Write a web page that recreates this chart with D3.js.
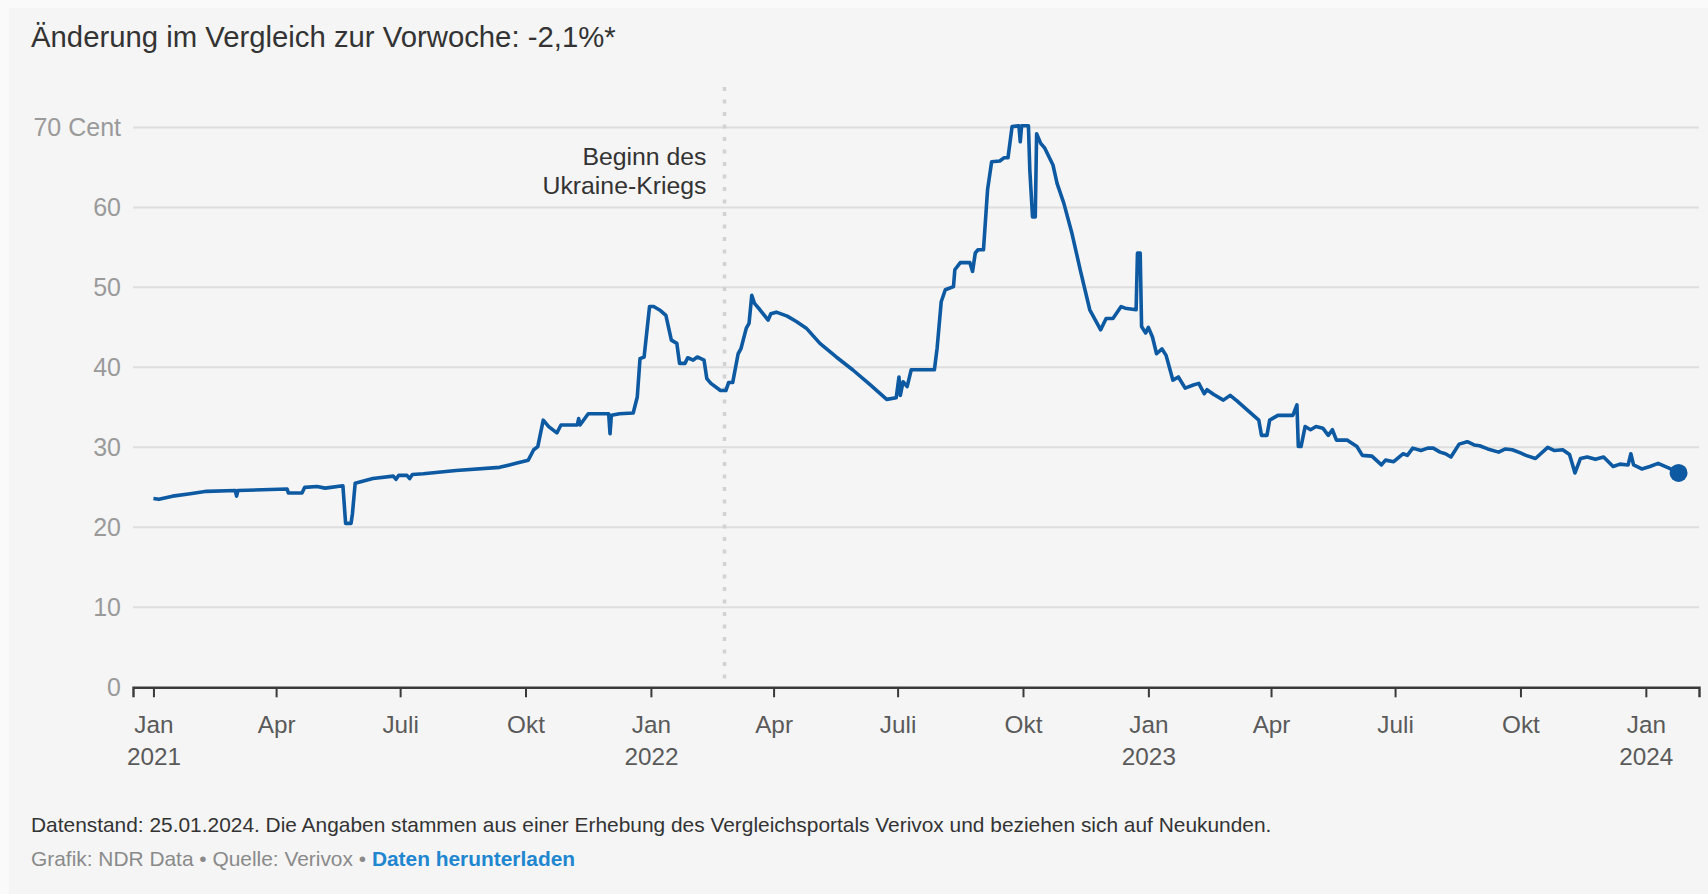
<!DOCTYPE html>
<html>
<head>
<meta charset="utf-8">
<script src="https://cdn.jsdelivr.net/npm/d3@7"></script>
<style>
  body { margin: 0; background: #f5f5f5; }
  svg text { font-family: "Liberation Sans", Arial, sans-serif; }
</style>
</head>
<body>
<svg width="1708" height="894"></svg>
<script>
// Strompreis Neukunden (Cent/kWh)
var dates = [
  "2021-01-01","2021-01-05","2021-01-15","2021-01-28","2021-02-09","2021-03-02","2021-03-03","2021-03-04",
  "2021-04-09","2021-04-10","2021-04-20","2021-04-22","2021-05-01","2021-05-07","2021-05-20","2021-05-22",
  "2021-05-26","2021-05-27","2021-05-29","2021-06-11","2021-06-26","2021-06-28","2021-06-30","2021-07-06",
  "2021-07-08","2021-07-10","2021-07-18","2021-08-11","2021-09-12","2021-09-24","2021-10-03","2021-10-07",
  "2021-10-10","2021-10-14","2021-10-18","2021-10-24","2021-10-27","2021-11-08","2021-11-09","2021-11-10",
  "2021-11-16","2021-12-01","2021-12-02","2021-12-03","2021-12-09","2021-12-19","2021-12-22","2021-12-24",
  "2021-12-27","2021-12-31",
  "2022-01-03","2022-01-08","2022-01-12","2022-01-16","2022-01-20","2022-01-22","2022-01-26","2022-01-28",
  "2022-02-01","2022-02-04","2022-02-09","2022-02-11","2022-02-14","2022-02-21","2022-02-25","2022-02-27",
  "2022-03-02","2022-03-06","2022-03-08","2022-03-12","2022-03-14","2022-03-16","2022-03-18","2022-03-22",
  "2022-03-28","2022-03-30","2022-04-03","2022-04-11","2022-04-18","2022-04-25","2022-05-05","2022-05-17",
  "2022-05-29","2022-06-11","2022-06-23","2022-06-30","2022-07-02","2022-07-03","2022-07-05","2022-07-08",
  "2022-07-11","2022-07-28","2022-07-30","2022-08-02","2022-08-05","2022-08-11","2022-08-12","2022-08-16",
  "2022-08-23","2022-08-25","2022-08-27","2022-08-29","2022-09-02","2022-09-05","2022-09-08","2022-09-14",
  "2022-09-17","2022-09-20","2022-09-23","2022-09-28","2022-09-29","2022-09-30","2022-10-05","2022-10-06",
  "2022-10-08","2022-10-10","2022-10-11","2022-10-14","2022-10-17","2022-10-23","2022-10-26","2022-10-31",
  "2022-11-06","2022-11-12","2022-11-19","2022-11-27","2022-12-01","2022-12-06","2022-12-12","2022-12-15",
  "2022-12-23","2022-12-24","2022-12-26","2022-12-27","2022-12-30",
  "2023-01-01","2023-01-04","2023-01-07","2023-01-11","2023-01-14","2023-01-19","2023-01-23","2023-01-28",
  "2023-02-03","2023-02-07","2023-02-11","2023-02-13","2023-02-18","2023-02-25","2023-03-02","2023-03-07",
  "2023-03-13","2023-03-23","2023-03-25","2023-03-29","2023-03-31","2023-04-06","2023-04-17","2023-04-20",
  "2023-04-21","2023-04-23","2023-04-26","2023-04-30","2023-05-04","2023-05-09","2023-05-13","2023-05-16",
  "2023-05-19","2023-05-27","2023-06-03","2023-06-07","2023-06-14","2023-06-21","2023-06-24","2023-06-30",
  "2023-07-07","2023-07-10","2023-07-14","2023-07-20","2023-07-25","2023-07-29","2023-08-03","2023-08-07",
  "2023-08-11","2023-08-17","2023-08-23","2023-08-28","2023-09-01","2023-09-07","2023-09-15","2023-09-20",
  "2023-09-25","2023-10-01","2023-10-05","2023-10-12","2023-10-21","2023-10-26","2023-11-01","2023-11-06",
  "2023-11-10","2023-11-14","2023-11-19","2023-11-25","2023-12-01","2023-12-08","2023-12-13","2023-12-19",
  "2023-12-21","2023-12-23","2023-12-29","2024-01-04","2024-01-10","2024-01-18","2024-01-25"
];
var prices = [
  23.6,23.5,23.9,24.2,24.5,24.6,23.9,24.6,
  24.8,24.3,24.3,25.0,25.1,24.9,25.2,20.5,
  20.5,21.7,25.5,26.1,26.4,26.0,26.5,26.5,
  26.1,26.6,26.7,27.1,27.5,28.0,28.4,29.7,
  30.1,33.4,32.6,31.8,32.8,32.8,33.6,32.8,
  34.2,34.2,31.7,34.0,34.2,34.3,36.3,41.1,
  41.3,47.6,
  47.6,47.1,46.5,43.4,43.0,40.5,40.5,41.2,
  40.9,41.3,40.9,38.6,38.0,37.1,37.1,38.1,
  38.1,41.7,42.3,44.9,45.5,49.0,48.0,47.2,
  45.9,46.7,46.9,46.4,45.7,44.9,43.0,41.3,
  39.7,37.8,36.0,36.2,38.8,36.5,38.2,37.6,
  39.7,39.7,42.4,48.2,49.7,50.1,52.2,53.1,
  53.1,52.0,54.3,54.7,54.7,62.2,65.7,65.8,
  66.2,66.2,70.1,70.2,68.2,70.2,70.2,64.7,
  58.8,58.8,69.2,68.0,67.4,65.3,63.0,60.5,
  56.7,52.2,47.2,44.7,46.1,46.1,47.6,47.4,
  47.2,54.3,54.3,45.1,44.3,
  45.0,43.8,41.7,42.3,41.5,38.4,38.8,37.4,
  37.8,38.0,36.7,37.2,36.6,35.9,36.5,35.8,
  34.9,33.4,31.5,31.5,33.4,34.0,34.0,35.3,
  30.1,30.1,32.6,32.2,32.6,32.4,31.5,32.2,
  30.9,30.9,30.1,29.0,28.9,27.8,28.4,28.2,
  29.2,29.0,29.9,29.6,29.9,29.9,29.4,29.2,
  28.8,30.4,30.7,30.3,30.2,29.8,29.4,29.8,
  29.7,29.3,29.0,28.6,30.0,29.6,29.7,29.1,
  26.8,28.6,28.8,28.5,28.8,27.6,27.9,27.8,
  29.2,27.8,27.3,27.6,28.0,27.4,26.8
];
var yTicks = [0, 10, 20, 30, 40, 50, 60, 70];
var xTicks = ["2021-01-01","2021-04-01","2021-07-01","2021-10-01","2022-01-01","2022-04-01","2022-07-01",
  "2022-10-01","2023-01-01","2023-04-01","2023-07-01","2023-10-01","2024-01-01"];
var monthNames = ["Jan","Feb","März","Apr","Mai","Juni","Juli","Aug","Sep","Okt","Nov","Dez"];
var warStart = "2022-02-24";

var parse = d3.timeParse("%Y-%m-%d");
var data = dates.map(function(d, i) { return {date: parse(d), value: prices[i]}; });

var svg = d3.select("svg");

// leicht hellerer Rand links/oben wie im Screenshot
svg.append("rect").attr("width", 1708).attr("height", 894).attr("fill", "#fafafa");
svg.append("rect").attr("x", 9).attr("y", 8).attr("width", 1699).attr("height", 886).attr("fill", "#f5f5f5");

var x = d3.scaleTime()
  .domain([parse("2020-12-17"), parse("2024-02-09")])
  .range([133, 1699]);
var y = d3.scaleLinear().domain([0, 70]).range([687.3, 127.4]);

// Titel
svg.append("text")
  .attr("x", 31).attr("y", 47)
  .attr("font-size", 29.3)
  .attr("fill", "#333")
  .text("Änderung im Vergleich zur Vorwoche: -2,1%*");

// Gitterlinien
svg.append("g")
  .selectAll("line")
  .data(yTicks.filter(function(d) { return d > 0; }))
  .enter()
  .append("line")
  .attr("x1", 133).attr("x2", 1699)
  .attr("y1", function(d) { return y(d); })
  .attr("y2", function(d) { return y(d); })
  .attr("stroke", "#dedede")
  .attr("stroke-width", 2);

// y-Beschriftung
svg.append("g")
  .selectAll("text")
  .data(yTicks)
  .enter()
  .append("text")
  .attr("x", 121)
  .attr("y", function(d) { return y(d); })
  .attr("dy", "0.36em")
  .attr("text-anchor", "end")
  .attr("font-size", 25)
  .attr("fill", "#9a9a9a")
  .text(function(d) { return d == 70 ? "70 Cent" : d; });

// Beginn des Ukraine-Kriegs
var wx = x(parse(warStart));
svg.append("line")
  .attr("x1", wx).attr("x2", wx)
  .attr("y1", 87).attr("y2", 687)
  .attr("stroke", "#d2d2d2")
  .attr("stroke-width", 3.5)
  .attr("stroke-dasharray", "4,8.5");

var note = svg.append("text")
  .attr("text-anchor", "end")
  .attr("font-size", 24.8)
  .attr("fill", "#333");
note.append("tspan").attr("x", wx - 18).attr("y", 164.5).text("Beginn des");
note.append("tspan").attr("x", wx - 18).attr("y", 194).text("Ukraine-Kriegs");

// x-Achse
var xAxis = svg.append("g")
  .attr("transform", "translate(0,687.3)")
  .call(d3.axisBottom(x)
    .tickValues(xTicks.map(parse))
    .tickSize(10)
    .tickPadding(0)
    .tickFormat(function(d) { return ""; }));
xAxis.select(".domain").attr("stroke", "#3a3a3a").attr("stroke-width", 2.4);
xAxis.selectAll(".tick line").attr("stroke", "#3a3a3a").attr("stroke-width", 2);
xAxis.selectAll(".tick text").remove();
xAxis.selectAll(".tick").each(function(d) {
  var t = d3.select(this).append("text")
    .attr("text-anchor", "middle")
    .attr("font-size", 24.3)
    .attr("fill", "#5a5a5a");
  t.append("tspan").attr("x", 0).attr("y", 46).text(monthNames[d.getMonth()]);
  if (d.getMonth() == 0) {
    t.append("tspan").attr("x", 0).attr("y", 78).text(d.getFullYear());
  }
});

// Linie
var line = d3.line()
  .x(function(d) { return x(d.date); })
  .y(function(d) { return y(d.value); });

svg.append("path")
  .datum(data)
  .attr("fill", "none")
  .attr("stroke", "#0d5aa2")
  .attr("stroke-width", 3.6)
  .attr("stroke-linejoin", "round")
  .attr("d", line);

var last = data[data.length - 1];
svg.append("circle")
  .attr("cx", x(last.date))
  .attr("cy", y(last.value))
  .attr("r", 9)
  .attr("fill", "#0d5aa2");

// Fußzeile
svg.append("text")
  .attr("x", 31).attr("y", 832)
  .attr("font-size", 20.9)
  .attr("fill", "#333")
  .text("Datenstand: 25.01.2024. Die Angaben stammen aus einer Erhebung des Vergleichsportals Verivox und beziehen sich auf Neukunden.");

var src = svg.append("text")
  .attr("x", 31).attr("y", 866)
  .attr("font-size", 20.9)
  .attr("fill", "#8a8a8a");
src.append("tspan").text("Grafik: NDR Data \u2022 Quelle: Verivox \u2022 ");
src.append("tspan").attr("fill", "#1f86d0").attr("font-weight", "bold").text("Daten herunterladen");
</script>
</body>
</html>
